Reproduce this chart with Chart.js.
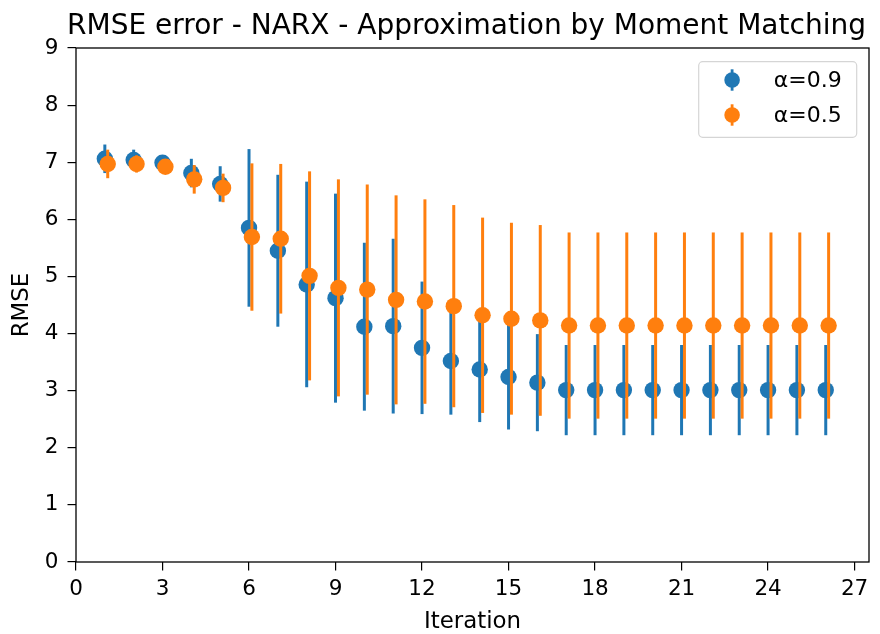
<!DOCTYPE html>
<html>
<head>
<meta charset="utf-8">
<script src="https://cdn.jsdelivr.net/npm/chart.js@4.4.1/dist/chart.umd.min.js"></script>
<style>
  html, body { margin: 0; padding: 0; background: #ffffff; }
  #wrap { width: 880px; height: 634px; }
</style>
</head>
<body>
<div id="wrap"><canvas id="chart" width="880" height="634"></canvas></div>
<script>
// Iterations and mean RMSE with its spread for the two α settings
const iterations = [1, 2, 3, 4, 5, 6, 7, 8, 9, 10, 11, 12, 13, 14, 15, 16, 17, 18, 19, 20, 21, 22, 23, 24, 25, 26];
const seriesLabels = ['α=0.9', 'α=0.5'];

const rmseAlpha09 = [7.06, 7.04, 6.99, 6.81, 6.62, 5.85, 5.45, 4.86, 4.62, 4.12, 4.13, 3.75, 3.52, 3.37, 3.24, 3.14,
                     3.01, 3.01, 3.01, 3.01, 3.01, 3.01, 3.01, 3.01, 3.01, 3.01];
const errAlpha09  = [0.25, 0.18, 0.10, 0.25, 0.31, 1.38, 1.33, 1.80, 1.83, 1.47, 1.53, 1.16, 0.94, 0.92, 0.92, 0.85,
                     0.79, 0.79, 0.79, 0.79, 0.79, 0.79, 0.79, 0.79, 0.79, 0.79];

const rmseAlpha05 = [6.97, 6.97, 6.92, 6.70, 6.55, 5.69, 5.66, 5.01, 4.80, 4.77, 4.59, 4.56, 4.48, 4.32, 4.26, 4.23,
                     4.14, 4.14, 4.14, 4.14, 4.14, 4.14, 4.14, 4.14, 4.14, 4.14];
const errAlpha05  = [0.25, 0.15, 0.08, 0.25, 0.25, 1.29, 1.31, 1.83, 1.90, 1.84, 1.83, 1.79, 1.77, 1.71, 1.68, 1.67,
                     1.63, 1.63, 1.63, 1.63, 1.63, 1.63, 1.63, 1.63, 1.63, 1.63];

// second series is nudged right so both bars stay visible
const shiftAlpha05 = 0.1;

const xTickStep = 3;
const yTicks = [0, 1, 2, 3, 4, 5, 6, 7, 8, 9];

const titleText = 'RMSE error - NARX - Approximation by Moment Matching';
const xTitle = 'Iteration';
const yTitle = 'RMSE';

const BLUE = '#1f77b4';
const ORANGE = '#ff7f0e';
const FONT = '"DejaVu Sans", "Liberation Sans", sans-serif';

function points(xs, ys, shift) {
  return xs.map((x, i) => ({ x: x + shift, y: ys[i] }));
}

// vertical error bars, drawn just before each dataset's markers
const errorBars = {
  id: 'errorBars',
  beforeDatasetDraw(chart, args) {
    const ds = chart.data.datasets[args.index];
    const errs = ds.errors;
    if (!errs) return;
    const { ctx, chartArea: a } = chart;
    const xs = chart.scales.x, ys = chart.scales.y;
    ctx.save();
    ctx.beginPath();
    ctx.rect(a.left, a.top, a.right - a.left, a.bottom - a.top);
    ctx.clip();
    ctx.strokeStyle = ds.backgroundColor;
    ctx.lineWidth = 3;
    ctx.lineCap = 'butt';
    ds.data.forEach((p, i) => {
      const px = xs.getPixelForValue(p.x);
      ctx.beginPath();
      ctx.moveTo(px, ys.getPixelForValue(p.y - errs[i]));
      ctx.lineTo(px, ys.getPixelForValue(p.y + errs[i]));
      ctx.stroke();
    });
    ctx.restore();
  }
};

// four-sided axes frame
const frame = {
  id: 'frame',
  afterDatasetsDraw(chart) {
    const { ctx, chartArea: a } = chart;
    ctx.save();
    ctx.strokeStyle = '#000';
    ctx.lineWidth = 1.3;
    ctx.strokeRect(a.left, a.top, a.right - a.left, a.bottom - a.top);
    ctx.restore();
  }
};

// title above the plot
const plotTitle = {
  id: 'plotTitle',
  afterDraw(chart) {
    const { ctx, chartArea: a } = chart;
    ctx.save();
    ctx.fillStyle = '#000';
    ctx.font = '28px ' + FONT;
    ctx.textAlign = 'center';
    ctx.textBaseline = 'alphabetic';
    ctx.fillText(titleText, (a.left + a.right) / 2 - 6, a.top - 14.5);
    ctx.restore();
  }
};

// boxed legend in the upper right corner of the plot
const boxLegend = {
  id: 'boxLegend',
  afterDraw(chart) {
    const { ctx, chartArea: a } = chart;
    const w = 158, h = 75.6;
    const bx = a.right - 12.3 - w, by = a.top + 13.7;
    ctx.save();
    ctx.beginPath();
    ctx.roundRect(bx, by, w, h, 4);
    ctx.fillStyle = 'rgba(255,255,255,0.85)';
    ctx.fill();
    ctx.strokeStyle = '#d5d5d5';
    ctx.lineWidth = 1.2;
    ctx.stroke();
    chart.data.datasets.forEach((ds, i) => {
      const cy = by + 18.3 + i * 35;
      const mx = bx + 33.4;
      ctx.strokeStyle = ds.backgroundColor;
      ctx.lineWidth = 2.8;
      ctx.beginPath();
      ctx.moveTo(mx, cy - 10.7);
      ctx.lineTo(mx, cy + 10.7);
      ctx.stroke();
      ctx.fillStyle = ds.backgroundColor;
      ctx.beginPath();
      ctx.arc(mx, cy, 7.8, 0, Math.PI * 2);
      ctx.fill();
      ctx.fillStyle = '#000';
      ctx.font = '22px ' + FONT;
      ctx.textAlign = 'left';
      ctx.textBaseline = 'middle';
      ctx.fillText(ds.label, bx + 75, cy + 1);
    });
    ctx.restore();
  }
};

const tickFont = { family: FONT, size: 21.5 };
const labelFont = { family: FONT, size: 22.9 };

new Chart(document.getElementById('chart'), {
  type: 'scatter',
  data: {
    datasets: [
      {
        label: seriesLabels[0],
        data: points(iterations, rmseAlpha09, 0),
        errors: errAlpha09,
        backgroundColor: BLUE,
        borderColor: BLUE,
        pointRadius: 8.2,
        pointBorderWidth: 0,
        order: 1
      },
      {
        label: seriesLabels[1],
        data: points(iterations, rmseAlpha05, shiftAlpha05),
        errors: errAlpha05,
        backgroundColor: ORANGE,
        borderColor: ORANGE,
        pointRadius: 8.2,
        pointBorderWidth: 0,
        order: 0
      }
    ]
  },
  options: {
    responsive: false,
    animation: false,
    devicePixelRatio: 1,
    events: [],
    layout: { padding: { left: 0, top: 48, right: 11, bottom: 0 } },
    plugins: {
      legend: { display: false },
      tooltip: { enabled: false },
      title: { display: false }
    },
    scales: {
      x: {
        type: 'linear',
        min: 0,
        max: 27.5,
        afterFit(scale) { scale.height = 72; },
        border: { display: false },
        grid: { drawOnChartArea: false, drawTicks: true, tickLength: 8.5, color: '#000', lineWidth: 1.2 },
        ticks: {
          stepSize: xTickStep,
          includeBounds: false,
          autoSkip: false,
          maxRotation: 0,
          color: '#000',
          font: tickFont,
          padding: 6.5
        },
        title: { display: true, text: xTitle, color: '#000', font: labelFont, padding: { top: 0, bottom: -2 } }
      },
      y: {
        type: 'linear',
        min: yTicks[0],
        max: yTicks[yTicks.length - 1],
        afterFit(scale) { scale.width = 76; },
        afterBuildTicks(scale) { scale.ticks = yTicks.map(v => ({ value: v })); },
        border: { display: false },
        grid: { drawOnChartArea: false, drawTicks: true, tickLength: 8.5, color: '#000', lineWidth: 1.2 },
        ticks: { color: '#000', font: tickFont, padding: 9 },
        title: { display: true, text: yTitle, color: '#000', font: labelFont, padding: { top: 8, bottom: 0 } }
      }
    }
  },
  plugins: [errorBars, frame, plotTitle, boxLegend]
});
</script>
</body>
</html>
